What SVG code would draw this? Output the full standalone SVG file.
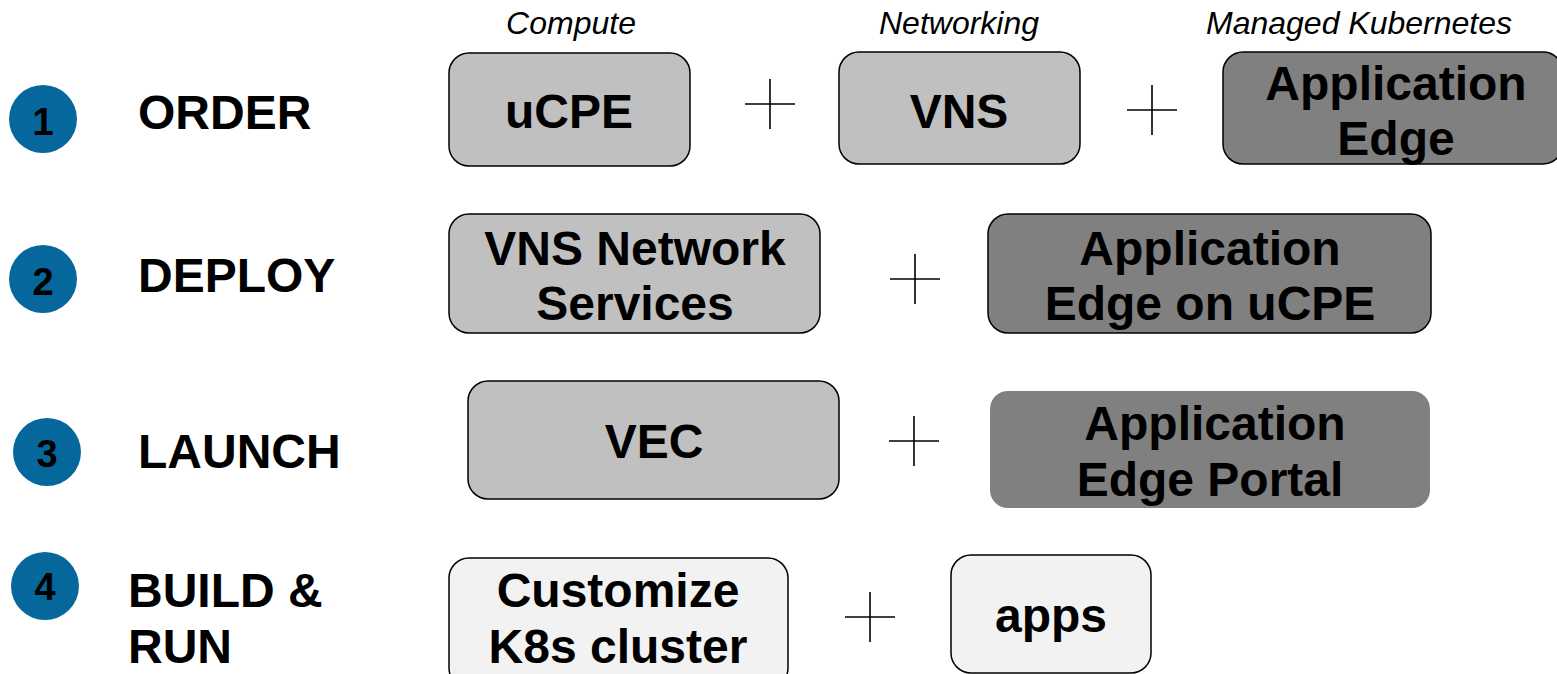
<svg xmlns="http://www.w3.org/2000/svg" width="1557" height="674" viewBox="0 0 1557 674">
<style>
.step{fill:#05679b}
.num{font-family:"Liberation Sans",Arial,sans-serif;font-weight:bold;font-size:38px;fill:#000;text-anchor:middle}
.lbl{font-family:"Liberation Sans",Arial,sans-serif;font-weight:bold;font-size:48px;fill:#000}
.cat{font-family:"Liberation Sans",Arial,sans-serif;font-style:italic;font-size:32px;fill:#000;text-anchor:middle}
.box{stroke:#000;stroke-width:1.5}
.light{fill:#c0c0c0}
.dark{fill:#808080}
.pale{fill:#f2f2f2}
.bt{font-family:"Liberation Sans",Arial,sans-serif;font-weight:bold;font-size:48px;fill:#000;text-anchor:middle}
.plus{stroke:#000;stroke-width:1.6;fill:none}
</style>
<g id="categories">
<text class="cat" x="571" y="34">Compute</text>
<text class="cat" x="959" y="34">Networking</text>
<text class="cat" x="1359" y="34">Managed Kubernetes</text>
</g>
<g id="step1">
<circle class="step" cx="43" cy="119" r="34"/>
<text class="num" x="43" y="135">1</text>
<text class="lbl" x="138" y="129">ORDER</text>
</g>
<g id="step2">
<circle class="step" cx="43" cy="279" r="34"/>
<text class="num" x="43" y="295">2</text>
<text class="lbl" x="138" y="292">DEPLOY</text>
</g>
<g id="step3">
<circle class="step" cx="47" cy="452" r="34"/>
<text class="num" x="47" y="467">3</text>
<text class="lbl" x="138" y="468">LAUNCH</text>
</g>
<g id="step4">
<circle class="step" cx="45" cy="586" r="34"/>
<text class="num" x="45" y="600">4</text>
<text class="lbl" x="128" y="607">BUILD &amp;</text>
<text class="lbl" x="128" y="663">RUN</text>
</g>
<g id="ucpe">
<rect class="box light" x="449" y="53" width="241" height="113" rx="20"/>
<text class="bt" x="569" y="128">uCPE</text>
</g>
<g id="vns">
<rect class="box light" x="839" y="52" width="241" height="112" rx="20"/>
<text class="bt" x="959" y="128">VNS</text>
</g>
<g id="appedge">
<rect class="box dark" x="1223" y="52" width="340" height="112" rx="20"/>
<text class="bt" x="1396" y="100">Application</text>
<text class="bt" x="1396" y="155">Edge</text>
</g>
<g id="vnsnet">
<rect class="box light" x="449" y="214" width="371" height="119" rx="20"/>
<text class="bt" x="635" y="265">VNS Network</text>
<text class="bt" x="635" y="320">Services</text>
</g>
<g id="appedgeucpe">
<rect class="box dark" x="988" y="214" width="443" height="119" rx="20"/>
<text class="bt" x="1210" y="265">Application</text>
<text class="bt" x="1210" y="320">Edge on uCPE</text>
</g>
<g id="vec">
<rect class="box light" x="468" y="381" width="371" height="118" rx="20"/>
<text class="bt" x="654" y="458">VEC</text>
</g>
<g id="appedgeportal">
<rect class="dark" x="990" y="391" width="440" height="117" rx="18"/>
<text class="bt" x="1215" y="440">Application</text>
<text class="bt" x="1210" y="496">Edge Portal</text>
</g>
<g id="k8s">
<rect class="box pale" x="449" y="558" width="339" height="130" rx="20"/>
<text class="bt" x="618" y="607">Customize</text>
<text class="bt" x="618" y="663">K8s cluster</text>
</g>
<g id="apps">
<rect class="box pale" x="951" y="555" width="200" height="118" rx="20"/>
<text class="bt" x="1051" y="632">apps</text>
</g>
<g id="connectors">
<path class="plus" d="M745 104H795M770 79V129"/>
<path class="plus" d="M1127 110H1177M1152 85V135"/>
<path class="plus" d="M890 279H940M915 254V304"/>
<path class="plus" d="M889 441H939M914 416V466"/>
<path class="plus" d="M845 617H895M870 592V642"/>
</g>
</svg>
